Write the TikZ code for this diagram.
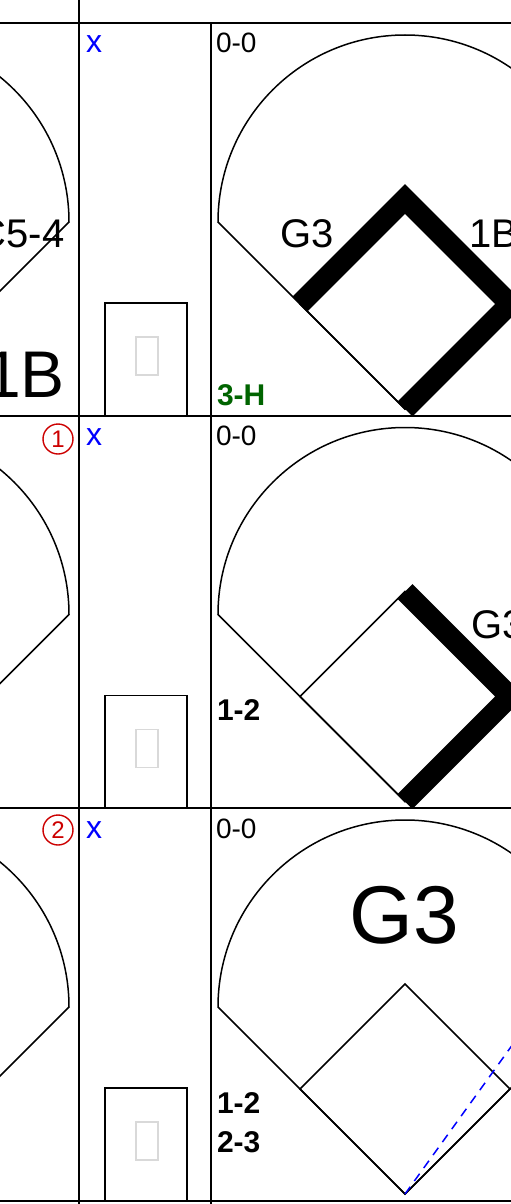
\documentclass[tikz,border=0pt]{standalone}
\usepackage{fontspec}
\setmainfont{Liberation Sans}
\definecolor{ScoreRed}{HTML}{CC0000}
\definecolor{ScoreGreen}{HTML}{006400}
\definecolor{ScoreBlue}{HTML}{0000FF}
\newcommand{\sizept}[1]{\fontsize{#1}{#1}\selectfont}

\begin{document}
\begin{tikzpicture}[x=1pt, y=-1pt,
  grid/.style={line width=2pt},
  field/.style={line width=1.5pt, line join=miter},
  runpath/.style={line width=21pt, line join=miter, line cap=butt},
  every node/.style={inner sep=0pt, outer sep=0pt}]
  \useasboundingbox (0,0) rectangle (511,1204);
  \clip (0,0) rectangle (511,1204);

  % Grid
  \draw[grid] (0,23) -- (511,23);
  \draw[grid] (0,415.5) -- (511,415.5);
  \draw[grid] (0,808) -- (511,808);
  \draw[grid] (0,1201) -- (511,1201);
  \draw[grid] (79,0) -- (79,1204);
  \draw[grid] (211,23) -- (211,1204);

  % First row
  \begin{scope}[shift={(0,23)}]
  \draw[field] (-118,386) -- (69,199) arc[start angle=0, end angle=180, radius=187pt];
  \node[anchor=base east, font=\sizept{40}] (play1a) at (64.5,224) {FC5-4};
  \node[anchor=base east, font=\sizept{66}] (res1a) at (65,374) {1B};
  \node[anchor=base west, text=ScoreBlue, font=\sizept{32}] (x1) at (86,30) {x};
  \draw[field] (105,392) -- (105,280) -- (187,280) -- (187,392);
  \draw[gray!30, line width=1.5pt] (136,314) rectangle (158,352);
  \node[anchor=base west, font=\sizept{28}] (count1) at (216,30) {0-0};
  \draw[field] (405,386) -- (218,199) arc[start angle=180, end angle=0, radius=187pt] -- cycle;
  \draw[field] (405,386) -- (300,281) -- (405,176) -- (510,281) -- cycle;
  \draw[runpath] (300,281) -- (405,176) -- (510,281) -- (405,386);
  \node[anchor=base west, font=\sizept{40}] (play1b) at (280,224) {G3};
  \node[anchor=base west, font=\sizept{40}] (play1c) at (469,224) {1B};
  \node[anchor=base west, text=ScoreGreen, font=\sizept{30}\bfseries] (adv1) at (217,382) {3-H};
  \end{scope}

  % Second row
  \begin{scope}[shift={(0,415.5)}]
  \draw[field] (-118,386) -- (69,199) arc[start angle=0, end angle=180, radius=187pt];
  \node[circle, draw=ScoreRed, line width=1.4pt, minimum size=30pt, text=ScoreRed,
        font=\sizept{24}] (run1) at (58,23.5) {1};
  \node[anchor=base west, text=ScoreBlue, font=\sizept{32}] (x2) at (86,30) {x};
  \draw[field] (105,392) -- (105,280) -- (187,280) -- (187,392);
  \draw[gray!30, line width=1.5pt] (136,314) rectangle (158,352);
  \node[anchor=base west, font=\sizept{28}] (count2) at (216,30) {0-0};
  \draw[field] (405,386) -- (218,199) arc[start angle=180, end angle=0, radius=187pt] -- cycle;
  \draw[field] (405,386) -- (300,281) -- (405,176) -- (510,281) -- cycle;
  \draw[runpath] (405,176) -- (510,281) -- (405,386);
  \node[anchor=base west, font=\sizept{40}] (play2) at (471,223) {G3};
  \node[anchor=base west, font=\sizept{30}\bfseries] (adv2) at (217,305) {1-2};
  \end{scope}

  % Third row
  \begin{scope}[shift={(0,808)}]
  \draw[field] (-118,386) -- (69,199) arc[start angle=0, end angle=180, radius=187pt];
  \node[circle, draw=ScoreRed, line width=1.4pt, minimum size=30pt, text=ScoreRed,
        font=\sizept{24}] (run2) at (58,22) {2};
  \node[anchor=base west, text=ScoreBlue, font=\sizept{32}] (x3) at (86,30) {x};
  \draw[field] (105,392) -- (105,280) -- (187,280) -- (187,392);
  \draw[gray!30, line width=1.5pt] (136,314) rectangle (158,352);
  \node[anchor=base west, font=\sizept{28}] (count3) at (216,30) {0-0};
  \draw[field] (405,386) -- (218,199) arc[start angle=180, end angle=0, radius=187pt] -- cycle;
  \draw[field] (405,386) -- (300,281) -- (405,176) -- (510,281) -- cycle;
  \coordinate (home3) at (405,386);
  \coordinate (hit3) at (621,86);
  \draw[ScoreBlue, line width=1.5pt, dash pattern=on 9pt off 7pt] (home3) -- (hit3);
  \node[anchor=base, font=\sizept{82}] (play3) at (404,135) {G3};
  \node[anchor=base west, font=\sizept{30}\bfseries] (adv3a) at (217,305) {1-2};
  \node[anchor=base west, font=\sizept{30}\bfseries] (adv3b) at (217,344) {2-3};
  \end{scope}
\end{tikzpicture}
\end{document}
